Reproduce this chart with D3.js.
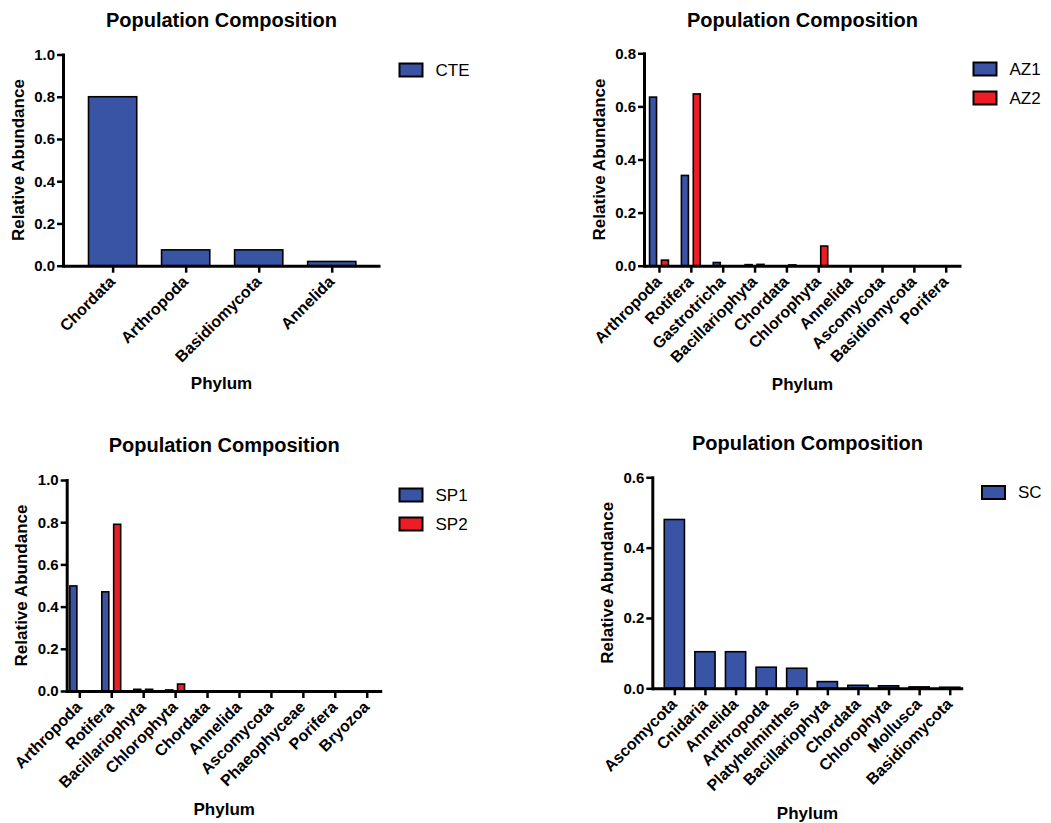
<!DOCTYPE html>
<html>
<head>
<meta charset="utf-8">
<script src="https://cdn.jsdelivr.net/npm/d3@7"></script>
<style>
  body { margin: 0; background: #fff; }
  text { font-family: "Liberation Sans", Arial, Helvetica, sans-serif; }
</style>
</head>
<body>
<div id="chart"></div>
<script>
// ---- data ----
const cteCategories = ["Chordata", "Arthropoda", "Basidiomycota", "Annelida"];
const cteValues = [0.80, 0.075, 0.075, 0.02];

const azCategories = ["Arthropoda", "Rotifera", "Gastrotricha", "Bacillariophyta", "Chordata",
                      "Chlorophyta", "Annelida", "Ascomycota", "Basidiomycota", "Porifera"];
const az1Values = [0.635, 0.34, 0.012, 0.004, 0, 0, 0, 0, 0, 0];
const az2Values = [0.021, 0.647, 0, 0.005, 0.003, 0.074, 0, 0, 0, 0];

const spCategories = ["Arthropoda", "Rotifera", "Bacillariophyta", "Chlorophyta", "Chordata",
                      "Annelida", "Ascomycota", "Phaeophyceae", "Porifera", "Bryozoa"];
const sp1Values = [0.498, 0.47, 0.008, 0.005, 0, 0, 0, 0, 0, 0];
const sp2Values = [0, 0.79, 0.008, 0.033, 0, 0, 0, 0, 0, 0];

const scCategories = ["Ascomycota", "Cnidaria", "Annelida", "Arthropoda", "Platyhelminthes",
                      "Bacillariophyta", "Chordata", "Chlorophyta", "Mollusca", "Basidiomycota"];
const scValues = [0.48, 0.104, 0.104, 0.06, 0.057, 0.019, 0.0085, 0.007, 0.004, 0.003];

const yTicks1 = [0, 0.2, 0.4, 0.6, 0.8, 1.0];
const yTicks08 = [0, 0.2, 0.4, 0.6, 0.8];
const yTicks06 = [0, 0.2, 0.4, 0.6];

const BLUE = "#3953a5", RED = "#ee1d25";

const svg = d3.select("#chart").append("svg")
  .attr("width", 1051).attr("height", 823);

function drawPanel(p) {
  const g = svg.append("g");

  const x = d3.scalePoint()
    .domain(p.categories)
    .range([p.x0, p.x1])
    .padding(p.pad)
    .align(p.align);

  const y = d3.scaleLinear()
    .domain([0, p.yMax])
    .range([p.yBottom, p.yTop]);

  // bars
  const names = p.series.map(s => s.name);
  let sub, bw;
  if (p.series.length > 1) {
    sub = d3.scaleBand().domain(names).range([-9.5, 9.5]).paddingInner(0.4);
    bw = 7;
  } else {
    bw = x.step() * 0.66;
    sub = () => -bw / 2;
  }
  p.series.forEach(s => {
    g.selectAll(null)
      .data(p.categories.map((c, i) => ({c, v: s.values[i]})))
      .enter().append("rect")
      .attr("x", d => x(d.c) + sub(s.name) + (p.series.length > 1 ? (sub.bandwidth() - bw) / 2 : 0))
      .attr("y", d => y(d.v))
      .attr("width", bw)
      .attr("height", d => y(0) - y(d.v))
      .attr("fill", s.color)
      .attr("stroke", "#000")
      .attr("stroke-width", 1.6);
  });

  // y axis
  const ya = g.append("g")
    .attr("transform", `translate(${p.x0},0)`)
    .call(d3.axisLeft(y).tickValues(p.yTicks).tickFormat(d3.format(".1f"))
      .tickSize(6).tickSizeOuter(0).tickPadding(2));
  ya.select(".domain").attr("stroke-width", 3).attr("stroke-linecap", "square");
  ya.selectAll(".tick line").attr("stroke-width", 2.5);
  ya.selectAll("text").attr("font-size", 15).attr("font-weight", "bold").attr("fill", "#000")
    .style("font-family", "'Liberation Sans', Arial, sans-serif");

  // x axis
  const xa = g.append("g")
    .attr("transform", `translate(0,${p.yBottom})`)
    .call(d3.axisBottom(x).tickSize(7).tickSizeOuter(0));
  xa.select(".domain").attr("stroke-width", 3);
  xa.selectAll(".tick line").attr("stroke-width", 2.5);
  xa.selectAll("text")
    .attr("x", 0).attr("y", 0).attr("dy", 0)
    .attr("text-anchor", "end")
    .attr("transform", "translate(3,17) rotate(-45)")
    .attr("font-size", 16).attr("font-weight", "bold").attr("fill", "#000")
    .style("font-family", "'Liberation Sans', Arial, sans-serif");

  const mid = (p.x0 + p.x1) / 2;

  // title
  g.append("text")
    .attr("x", mid).attr("y", p.titleY)
    .attr("text-anchor", "middle")
    .attr("font-size", 20).attr("font-weight", "bold")
    .text("Population Composition");

  // axis titles
  g.append("text")
    .attr("transform", `translate(${p.x0 - 39.5},${(p.yTop + p.yBottom) / 2}) rotate(-90)`)
    .attr("text-anchor", "middle")
    .attr("font-size", 17).attr("font-weight", "bold")
    .text("Relative Abundance");

  g.append("text")
    .attr("x", mid).attr("y", p.xLabelY)
    .attr("text-anchor", "middle")
    .attr("font-size", 17).attr("font-weight", "bold")
    .text("Phylum");

  // legend
  p.series.forEach((s, i) => {
    const ly = p.legY + i * 29;
    g.append("rect")
      .attr("x", p.legX).attr("y", ly)
      .attr("width", 23).attr("height", 13)
      .attr("fill", s.color).attr("stroke", "#000").attr("stroke-width", 2);
    g.append("text")
      .attr("x", p.legX + 36).attr("y", ly + 6.5)
      .attr("dy", "0.35em")
      .attr("font-size", 17)
      .text(s.name);
  });
}

drawPanel({
  categories: cteCategories,
  series: [{name: "CTE", values: cteValues, color: BLUE}],
  x0: 63, x1: 380, pad: 0.67, align: 0.507,
  yMax: 1.0, yTicks: yTicks1, yTop: 54.5, yBottom: 265.7,
  titleY: 27, xLabelY: 389, legX: 399.5, legY: 63.5
});

drawPanel({
  categories: azCategories,
  series: [{name: "AZ1", values: az1Values, color: BLUE},
           {name: "AZ2", values: az2Values, color: RED}],
  x0: 644, x1: 961, pad: 0.475, align: 0.495,
  yMax: 0.8, yTicks: yTicks08, yTop: 53.3, yBottom: 265.7,
  titleY: 27, xLabelY: 390, legX: 973.5, legY: 62.5
});

drawPanel({
  categories: spCategories,
  series: [{name: "SP1", values: sp1Values, color: BLUE},
           {name: "SP2", values: sp2Values, color: RED}],
  x0: 66.7, x1: 381.7, pad: 0.432, align: 0.457,
  yMax: 1.0, yTicks: yTicks1, yTop: 480, yBottom: 691,
  titleY: 452, xLabelY: 815, legX: 399.5, legY: 488.5
});

drawPanel({
  categories: scCategories,
  series: [{name: "SC", values: scValues, color: BLUE}],
  x0: 652.3, x1: 962.7, pad: 0.572, align: 0.63,
  yMax: 0.6, yTicks: yTicks06, yTop: 477.3, yBottom: 688.3,
  titleY: 450, xLabelY: 819, legX: 982, legY: 486
});
</script>
</body>
</html>
